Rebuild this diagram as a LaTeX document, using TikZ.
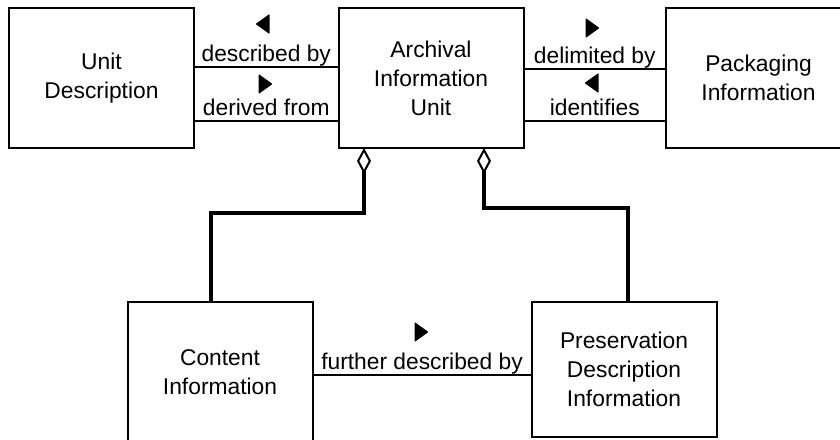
\documentclass[tikz,border=0pt]{standalone}
\usepackage{fontspec}
\setmainfont{Liberation Sans}
\usetikzlibrary{arrows.meta}
\newcommand{\richtungR}[1]{\fill[rounded corners=.4pt] #1 ++(-6.5,-10) -- ++(0,20) -- ++(14,-10) -- cycle;}
\newcommand{\richtungL}[1]{\fill[rounded corners=.4pt] #1 ++(6.5,-10) -- ++(0,20) -- ++(-14,-10) -- cycle;}

\begin{document}
\begin{tikzpicture}[x=.5pt, y=-.5pt, line width=1pt,
    font=\fontsize{11.4pt}{14.5pt}\selectfont,
    kasten/.style={draw, minimum width=92.5pt, minimum height=70pt, align=center, inner sep=0pt, outer sep=0pt},
    bez/.style={line width=.9pt},
    beschr/.style={anchor=base, yshift=3pt, inner sep=0pt},
    agg/.style={line width=2pt, {Diamond[open, length=13pt, width=7pt, line width=1pt]}-} ]
    \useasboundingbox (0,0) rectangle (840,439);
    \clip (0,0) rectangle (840,439);

    % Kaesten.
    \node[kasten] (ud)  at (101.5,78)  {Unit\\Description};
    \node[kasten] (aiu) at (431,78)    {Archival\\Information\\Unit};
    \node[kasten] (pi)  at (758.5,78)  {Packaging\\Information};
    \node[kasten] (ci)  at (220,372)   {Content\\Information};
    \node[kasten, minimum height=67.5pt] (pdi) at (624,369.5) {Preservation\\Description\\Information};

    % Beziehungen.
    \draw[bez] ([yshift=5.5pt]ud.east)   -- node[beschr] (lDescr) {described by} ([yshift=5.5pt]ud.east -| aiu.west);
    \draw[bez] ([yshift=-21.5pt]ud.east) -- node[beschr] (lDeriv) {derived from} ([yshift=-21.5pt]ud.east -| aiu.west);
    \draw[bez] ([yshift=4.5pt]pi.west)   -- node[beschr] (lDelim) {delimited by} ([yshift=4.5pt]pi.west -| aiu.east);
    \draw[bez] ([yshift=-21.5pt]pi.west) -- node[beschr] (lIdent) {identifies} ([yshift=-21.5pt]pi.west -| aiu.east);
    \draw[bez] ([yshift=-1.5pt]ci.east)  -- node[beschr] (lFurth) {further described by} ([yshift=-1.5pt]ci.east -| pdi.west);

    % Aggregation.
    \draw[agg] ([xshift=-33.5pt]aiu.south) -- ++(0,65) -| ([xshift=-4.5pt]ci.north);
    \draw[agg] ([xshift=26.5pt]aiu.south)  -- ++(0,60) -| ([xshift=2pt]pdi.north);

    % Leserichtung.
    \richtungL{(263,24)}
    \richtungR{(265,84)}
    \richtungR{(592,28)}
    \richtungL{(592,83)}
    \richtungR{(421,332)}
\end{tikzpicture}
\end{document}
